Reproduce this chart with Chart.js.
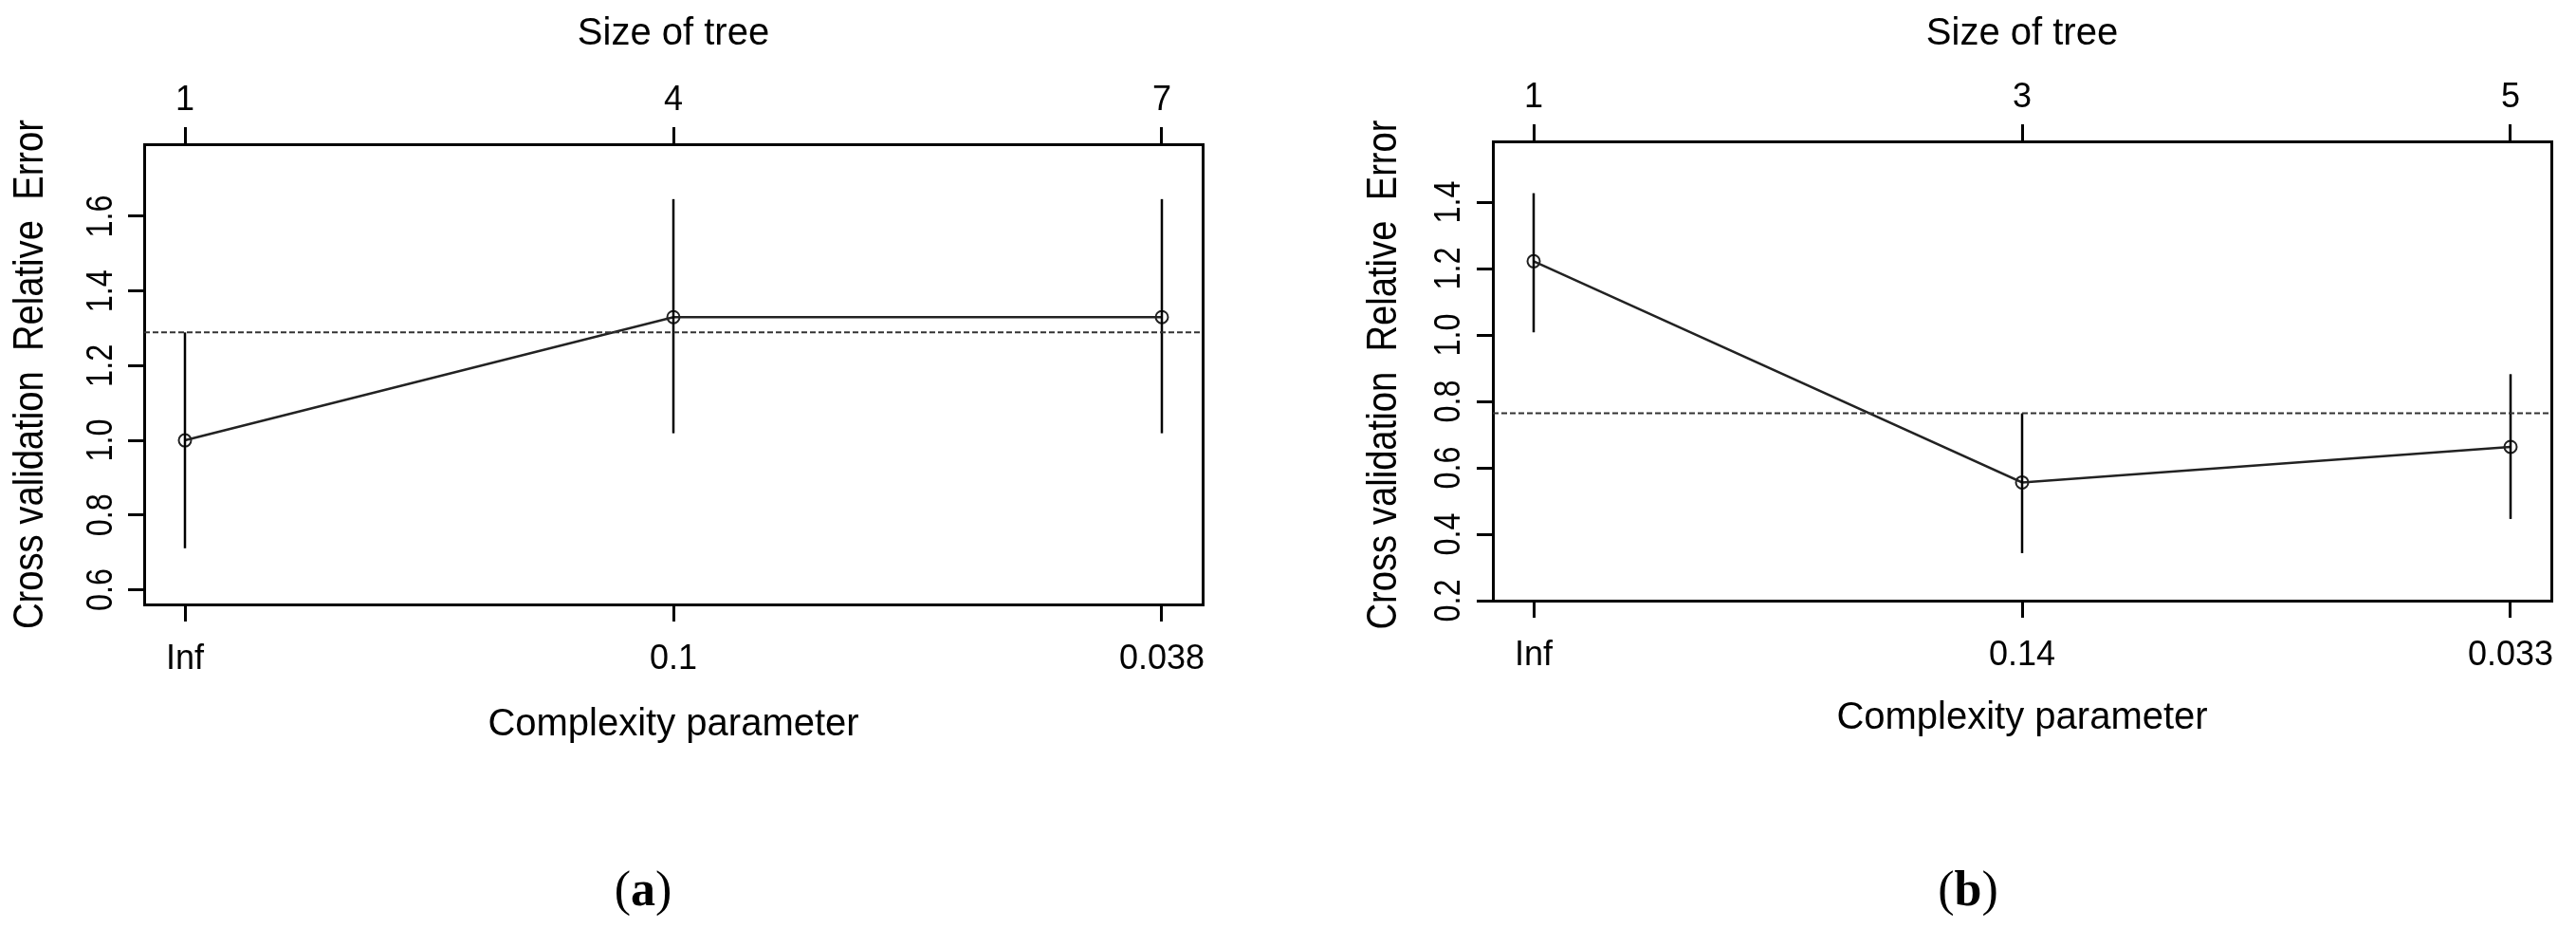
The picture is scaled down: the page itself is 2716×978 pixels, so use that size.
<!DOCTYPE html>
<html>
<head>
<meta charset="utf-8">
<script src="https://cdn.jsdelivr.net/npm/chart.js@4.4.1/dist/chart.umd.min.js"></script>
<style>
  html, body { margin: 0; padding: 0; background: #fff; }
  #page { position: relative; width: 2716px; height: 978px; overflow: hidden; background: #fff; }
  .panel { position: absolute; top: 0; width: 1358px; height: 978px; }
  .caption {
    position: absolute;
    font-family: "Liberation Serif", "Times New Roman", serif;
    font-size: 52px;
    line-height: 1;
    color: #000;
    transform: translate(-50%, -50%);
    white-space: nowrap;
  }
</style>
</head>
<body>
<div id="page">
  <div class="panel" style="left:0"><canvas id="chartA" width="1358" height="978"></canvas></div>
  <div class="panel" style="left:1358px"><canvas id="chartB" width="1358" height="978"></canvas></div>
  <div class="caption" style="left:678px; top:937px">(<b>a</b>)</div>
  <div class="caption" style="left:2075px; top:937px">(<b>b</b>)</div>
</div>
<script>
// panel (a)
const sizeA = ['1', '4', '7'];
const cpA = ['Inf', '0.1', '0.038'];
const errA = [1.0, 1.33, 1.33];
const upA = [1.289, 1.646, 1.646];
const loA = [0.711, 1.019, 1.019];
const cutA = 1.289;
const yTicksA = [0.6, 0.8, 1.0, 1.2, 1.4, 1.6];

// panel (b)
const sizeB = ['1', '3', '5'];
const cpB = ['Inf', '0.14', '0.033'];
const errB = [1.222, 0.556, 0.663];
const upB = [1.427, 0.764, 0.882];
const loB = [1.008, 0.343, 0.446];
const cutB = 0.764;
const yTicksB = [0.2, 0.4, 0.6, 0.8, 1.0, 1.2, 1.4];

const yTitle = 'Cross validation  Relative  Error';
const xTitle = 'Complexity parameter';
const topTitle = 'Size of tree';

const X_MIN = 0.9165, X_MAX = 3.0835;
const FONT = '"Liberation Sans", Arial, sans-serif';

Chart.defaults.font.family = FONT;
Chart.defaults.color = '#000';

// R draws the rotated y labels a bit wider than the normal text, so they are drawn here
// from the y scale with a small stretch
const rotatedY = {
    id: 'rotatedY',
    afterDraw(chart, args, opts) {
        const s = chart.scales.y;
        const area = chart.chartArea;
        const ctx = chart.ctx;
        ctx.save();
        ctx.fillStyle = '#000';
        ctx.textAlign = 'center';
        ctx.textBaseline = 'middle';

        ctx.font = '36px ' + FONT;
        opts.ticks.forEach(v => {
            ctx.save();
            ctx.translate(area.left - opts.labelGap, s.getPixelForValue(v));
            ctx.rotate(-Math.PI / 2);
            ctx.scale(0.9, 1.08);
            ctx.fillText(v.toFixed(1), 0, 0);
            ctx.restore();
        });

        ctx.font = '40px ' + FONT;
        ctx.translate(opts.titleX, (area.top + area.bottom) / 2 + opts.titleDy);
        ctx.rotate(-Math.PI / 2);
        ctx.scale(0.955, 1.12);
        ctx.fillText(yTitle, 0, 0);
        ctx.restore();
    }
};

function makeChart(id, d) {
    const xs = d.err.map((_, i) => i + 1);

    const datasets = [];
    // dotted 1-SE line
    datasets.push({
        data: [{ x: X_MIN, y: d.cut }, { x: X_MAX, y: d.cut }],
        borderColor: '#333', borderWidth: 2, borderDash: [6, 3],
        pointRadius: 0
    });
    // error bars
    xs.forEach((x, i) => {
        datasets.push({
            data: [{ x: x, y: d.lo[i] }, { x: x, y: d.up[i] }],
            borderColor: '#000', borderWidth: 2.5, pointRadius: 0
        });
    });
    // cv error line with open circles
    datasets.push({
        data: xs.map((x, i) => ({ x: x, y: d.err[i] })),
        borderColor: '#222', borderWidth: 2.5,
        pointRadius: 6.5, pointBorderWidth: 2,
        pointBackgroundColor: 'rgba(0,0,0,0)', pointBorderColor: '#222'
    });

    const fixTicks = (vals) => (scale) => { scale.ticks = vals.map(v => ({ value: v })); };
    const tickFont = { size: 36, lineHeight: 1.2 };
    const titleFont = { size: 40, lineHeight: 1.2 };
    const axisLine = { display: true, color: '#000', width: 3 };

    return new Chart(document.getElementById(id), {
        type: 'line',
        data: { datasets: datasets },
        plugins: [rotatedY],
        options: {
            responsive: false,
            animation: false,
            devicePixelRatio: 1,
            layout: { padding: 0 },
            plugins: {
                legend: { display: false },
                tooltip: { enabled: false },
                rotatedY: { ticks: d.yTicks, labelGap: d.yLabelGap, titleX: d.yTitleX, titleDy: d.yTitleDy }
            },
            elements: { line: { tension: 0 } },
            scales: {
                x: {
                    type: 'linear', position: 'bottom', min: X_MIN, max: X_MAX,
                    afterBuildTicks: fixTicks(xs),
                    afterFit: (s) => { s.height = d.bottomH; },
                    grid: { drawOnChartArea: false, drawTicks: true, tickLength: 18, color: '#000', lineWidth: 3 },
                    border: axisLine,
                    ticks: { autoSkip: false, maxRotation: 0, minRotation: 0, padding: 18, font: tickFont,
                        callback: (v) => d.cps[Math.round(v) - 1] },
                    title: { display: true, text: xTitle, font: titleFont, padding: { top: 0, bottom: d.xTitlePad } }
                },
                x2: {
                    type: 'linear', position: 'top', min: X_MIN, max: X_MAX,
                    afterBuildTicks: fixTicks(xs),
                    afterFit: (s) => { s.height = d.topH; },
                    grid: { drawOnChartArea: false, drawTicks: true, tickLength: 18, color: '#000', lineWidth: 3 },
                    border: axisLine,
                    ticks: { autoSkip: false, maxRotation: 0, minRotation: 0, padding: 6, font: tickFont,
                        callback: (v) => d.sizes[Math.round(v) - 1] },
                    title: { display: true, text: topTitle, font: titleFont, padding: { top: 12, bottom: 0 } }
                },
                y: {
                    type: 'linear', position: 'left', min: d.yMin, max: d.yMax,
                    afterBuildTicks: fixTicks(d.yTicks),
                    afterFit: (s) => { s.width = d.leftW; },
                    grid: { drawOnChartArea: false, drawTicks: true, tickLength: 17, color: '#000', lineWidth: 3 },
                    border: axisLine,
                    ticks: { display: false },
                    title: { display: false }
                },
                y2: {
                    type: 'linear', position: 'right', min: d.yMin, max: d.yMax,
                    afterFit: (s) => { s.width = d.rightW; },
                    grid: { display: false, drawTicks: false },
                    border: axisLine,
                    ticks: { display: false }
                }
            }
        }
    });
}

makeChart('chartA', {
    sizes: sizeA, cps: cpA, err: errA, up: upA, lo: loA, cut: cutA, yTicks: yTicksA,
    yMin: 0.5606, yMax: 1.793,
    leftW: 152, rightW: 90, topH: 152, bottomH: 341,
    yLabelGap: 45, yTitleX: 33, yTitleDy: 0, xTitlePad: 190
});

makeChart('chartB', {
    sizes: sizeB, cps: cpB, err: errB, up: upB, lo: loB, cut: cutB, yTicks: yTicksB,
    yMin: 0.2, yMax: 1.583,
    leftW: 216, rightW: 26, topH: 149, bottomH: 345,
    yLabelGap: 46, yTitleX: 102, yTitleDy: 4, xTitlePad: 197
});
</script>
</body>
</html>
